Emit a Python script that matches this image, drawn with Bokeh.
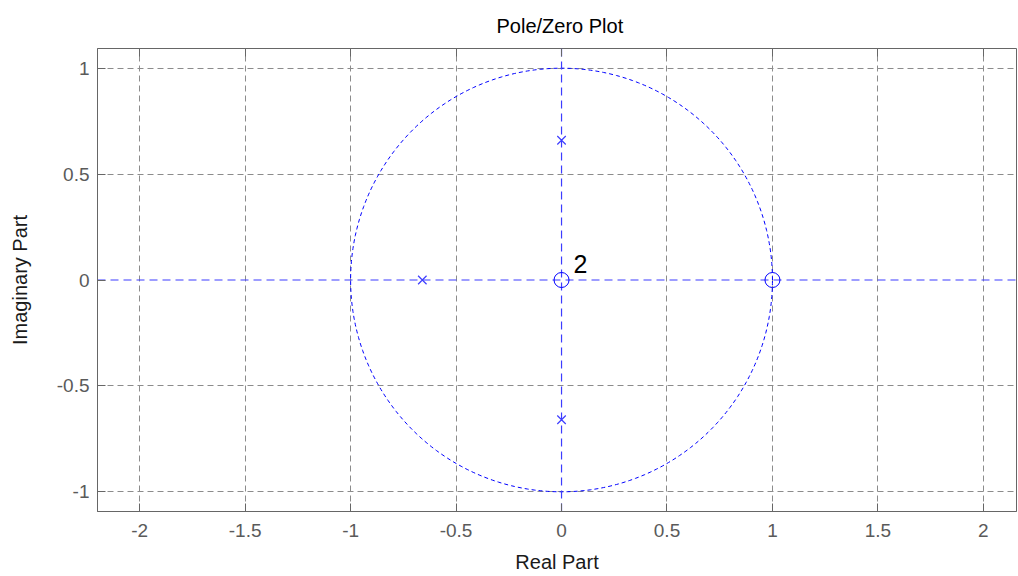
import numpy as np
from bokeh.plotting import figure
from bokeh.models import LinearAxis, Range1d, FixedTicker, Label
from bokeh.embed import file_html
from bokeh.resources import INLINE

# data
zeros_re = [0.0, 1.0]
zeros_im = [0.0, 0.0]
poles_re = [-0.66, 0.0, 0.0]
poles_im = [0.0, 0.66, -0.66]
mult_label = "2"
x_ticks = [-2, -1.5, -1, -0.5, 0, 0.5, 1, 1.5, 2]
x_tick_labels = ["-2", "-1.5", "-1", "-0.5", "0", "0.5", "1", "1.5", "2"]
y_ticks = [-1, -0.5, 0, 0.5, 1]
y_tick_labels = ["-1", "-0.5", "0", "0.5", "1"]

FONT = "Liberation Sans"
BLUE = "#0000ff"
LBLUE = "#3c3cff"
GRAY = "#666666"
XMIN, XMAX = -2.2, 2.157
YMIN, YMAX = -1.093, 1.093

p = figure(width=1018, height=576, output_backend="svg", toolbar_location=None,
           x_range=Range1d(XMIN, XMAX), y_range=Range1d(YMIN, YMAX),
           min_border_left=97, min_border_right=2, min_border_bottom=65, min_border_top=48,
           title="Pole/Zero Plot")
p.title.align = "left"
p.title.offset = 399
p.title.text_font = FONT
p.title.text_font_size = "20px"
p.title.text_font_style = "normal"
p.title.text_color = "black"
p.title.standoff = 24

p.outline_line_color = GRAY
p.outline_line_width = 1

for ax in (p.xaxis[0], p.yaxis[0]):
    ax.major_tick_in = 8
    ax.major_tick_out = 0
    ax.minor_tick_line_color = None
    ax.axis_line_color = GRAY
    ax.axis_line_width = 1
    ax.major_tick_line_color = GRAY
    ax.major_label_text_font = FONT
    ax.major_label_text_font_size = "19px"
    ax.major_label_text_color = "#5a5a5a"
    ax.axis_label_text_font = FONT
    ax.axis_label_text_font_size = "20px"
    ax.axis_label_text_font_style = "normal"
    ax.axis_label_text_color = "#1a1a1a"

p.xaxis.ticker = FixedTicker(ticks=x_ticks)
p.yaxis.ticker = FixedTicker(ticks=y_ticks)
p.xaxis.major_label_overrides = {t: s for t, s in zip(x_ticks, x_tick_labels)}
p.yaxis.major_label_overrides = {t: s for t, s in zip(y_ticks, y_tick_labels)}
p.xaxis.axis_label = "Real Part"
p.yaxis.axis_label = "Imaginary Part"
p.xaxis.major_label_standoff = 12
p.yaxis.major_label_standoff = 8
p.xaxis.axis_label_standoff = 11
p.yaxis.axis_label_standoff = 23

top = LinearAxis(ticker=FixedTicker(ticks=x_ticks), major_tick_in=8, major_tick_out=0,
                 minor_tick_line_color=None, axis_line_color=None, major_tick_line_color=GRAY,
                 major_label_overrides={t: "" for t in x_ticks}, major_label_standoff=0,
                 major_label_text_font_size="1px")
p.add_layout(top, "above")

p.xgrid.ticker = FixedTicker(ticks=[t for t in x_ticks if t != 0])
p.ygrid.ticker = FixedTicker(ticks=[t for t in y_ticks if t != 0])
for g in (p.xgrid[0], p.ygrid[0]):
    g.grid_line_color = "#8c8c8c"
    g.grid_line_dash = "6 4"
    g.grid_line_width = 1

# unit circle and axes lines
th = np.linspace(0, 2 * np.pi, 400)
p.line(np.cos(th), np.sin(th), line_color=BLUE, line_dash="4 3", line_width=1)
p.line([XMIN, XMAX], [0, 0], line_color=LBLUE, line_dash="8 5", line_width=1.2)
p.line([0, 0], [YMIN, YMAX], line_color=LBLUE, line_dash="8 5", line_width=1.2)

p.scatter(zeros_re, zeros_im, marker="circle", size=15, fill_color=None,
          line_color=BLUE, line_width=1)
p.scatter(poles_re, poles_im, marker="x", size=12, line_color=LBLUE, line_width=1.2)

p.add_layout(Label(x=zeros_re[0], y=zeros_im[0], text=mult_label, x_offset=12, y_offset=16,
                   text_baseline="alphabetic",
                   text_font=FONT, text_font_size="25px", text_color="black"))

open("out.html", "w").write(file_html(p, INLINE))
